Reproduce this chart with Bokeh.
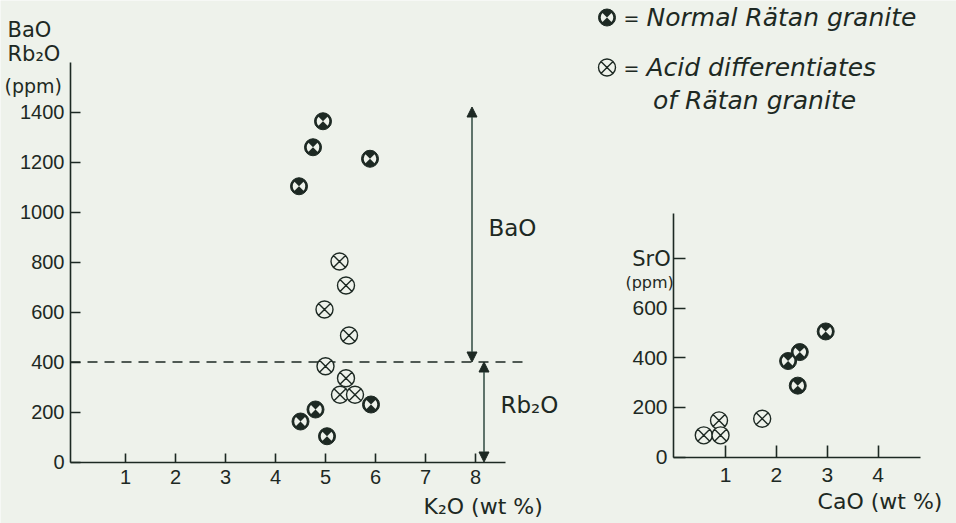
import math
from bokeh.plotting import figure
from bokeh.models import LinearAxis, FixedTicker, Range1d, Arrow, NormalHead
from bokeh.core.properties import value
from bokeh.embed import file_html
from bokeh.resources import INLINE

BG = "#eef2eb"
INK = "#1d2923"
ARROW = "#2f4a40"

# ---- Left panel: BaO / Rb2O (ppm) vs K2O (wt %) ----
normal_k2o = [4.95, 4.75, 5.89, 4.47, 5.91, 4.80, 4.50, 5.03]
normal_ppm = [1363, 1259, 1213, 1103, 230, 210, 162, 103]
acid_k2o = [5.28, 5.41, 4.98, 5.47, 5.00, 5.41, 5.29, 5.59]
acid_ppm = [802, 706, 610, 506, 383, 335, 269, 269]
left_xticks = [1, 2, 3, 4, 5, 6, 7, 8]
left_yticks = [0, 200, 400, 600, 800, 1000, 1200, 1400]
boundary_ppm = 400
bao_span = [400, 1420]
rb2o_span = [0, 400]

# ---- Right panel: SrO (ppm) vs CaO (wt %) ----
normal_cao = [2.23, 2.46, 2.42, 2.97]
normal_sro = [387, 423, 288, 506]
acid_cao = [0.57, 0.87, 0.90, 1.72]
acid_sro = [88, 148, 88, 155]
right_xticks = [1, 2, 3, 4]
right_yticks = [0, 200, 400, 600, 800]

legend_labels = ["Normal Rätan granite", "Acid differentiates", "of Rätan granite"]

FONT_NUM = "Liberation Sans"
FONT_TXT = "DejaVu Sans"

p = figure(width=956, height=523,
           x_range=Range1d(-1.5, 17.62), y_range=Range1d(-246, 1846),
           x_axis_type=None, y_axis_type=None, min_border=0,
           toolbar_location=None, output_backend="svg",
           background_fill_color=BG, border_fill_color=BG, outline_line_color=None)
p.extra_x_ranges = {"rx": Range1d(-13.274, 5.545)}
p.extra_y_ranges = {"ry": Range1d(-266.8, 1837.8)}


def style_axis(ax, size, standoff, tick_len):
    ax.axis_line_color = INK
    ax.axis_line_width = 1.6
    ax.major_tick_line_color = INK
    ax.major_tick_line_width = 1.6
    ax.major_tick_in = tick_len
    ax.major_tick_out = 0
    ax.minor_tick_line_color = None
    ax.major_label_text_font = FONT_NUM
    ax.major_label_text_font_size = size
    ax.major_label_text_color = INK
    ax.major_label_standoff = standoff


# left axes
lx = LinearAxis(fixed_location=0, bounds=(-0.1, 8.6), ticker=FixedTicker(ticks=left_xticks))
style_axis(lx, "20px", 8, 9)
p.add_layout(lx, "below")
ly = LinearAxis(fixed_location=-0.1, bounds=(0, 1598), ticker=FixedTicker(ticks=left_yticks))
style_axis(ly, "20px", 6, 10)
p.add_layout(ly, "left")

# right axes
rxa = LinearAxis(x_range_name="rx", y_range_name="ry", fixed_location=0,
                 bounds=(-0.026, 4.84), ticker=FixedTicker(ticks=right_xticks))
style_axis(rxa, "21px", 11, 12)
p.add_layout(rxa, "below")
rya = LinearAxis(x_range_name="rx", y_range_name="ry", fixed_location=-0.026,
                 bounds=(0, 981), ticker=FixedTicker(ticks=right_yticks))
rya.major_label_overrides = {800: ""}
style_axis(rya, "21px", 6, 12)
p.add_layout(rya, "left")

# boundary dashed line and range arrows (left panel)
p.line([-0.1, 9.0], [boundary_ppm, boundary_ppm], line_color=INK, line_width=1.5, line_dash="10 7")
for xa, span in [(7.93, bao_span), (8.17, rb2o_span)]:
    p.add_layout(Arrow(x_start=xa, y_start=span[0], x_end=xa, y_end=span[1],
                       line_color=ARROW, line_width=1.5,
                       start=NormalHead(size=10, fill_color=INK, line_color=INK, line_width=1),
                       end=NormalHead(size=10, fill_color=INK, line_color=INK, line_width=1)))


def normal_markers(xs, ys, **kw):
    p.scatter(xs, ys, marker="circle", size=17, fill_color=INK, line_color=INK, line_width=1, **kw)
    a = 0.78
    p.wedge(xs, ys, radius=6.3, radius_units="screen", start_angle=-a, end_angle=a,
            fill_color=BG, line_color=None, **kw)
    p.wedge(xs, ys, radius=6.3, radius_units="screen", start_angle=math.pi - a, end_angle=math.pi + a,
            fill_color=BG, line_color=None, **kw)


def acid_markers(xs, ys, **kw):
    p.scatter(xs, ys, marker="circle_x", size=17, fill_color=BG, line_color=INK, line_width=1.4, **kw)


normal_markers(normal_k2o, normal_ppm)
acid_markers(acid_k2o, acid_ppm)
normal_markers(normal_cao, normal_sro, x_range_name="rx", y_range_name="ry")
acid_markers(acid_cao, acid_sro, x_range_name="rx", y_range_name="ry")


def txt(x, y, s, size, style="normal", align="left", **kw):
    p.text(x=[x], y=[y], text=[s], text_font=value(FONT_TXT), text_font_size=size,
           text_font_style=style, text_color=INK, text_align=align, text_baseline="middle", **kw)


# left panel titles
txt(-1.36, 1729, "BaO", "21px")
txt(-1.36, 1633, "Rb₂O", "21px")
txt(-1.42, 1506, "(ppm)", "19px")
txt(8.26, 936, "BaO", "23px")
txt(8.50, 230, "Rb₂O", "23px")
txt(6.96, -176, "K₂O (wt %)", "22px")

# right panel titles
txt(-0.08, 798, "SrO", "21px", align="right", x_range_name="rx", y_range_name="ry")
txt(-0.02, 705, "(ppm)", "16px", align="right", x_range_name="rx", y_range_name="ry")
txt(2.81, -180, "CaO (wt %)", "22px", x_range_name="rx", y_range_name="ry")

# legend
normal_markers([10.63], [1778])
acid_markers([10.63], [1578])
txt(10.96, 1778, "=", "19px")
txt(10.96, 1578, "=", "19px")
txt(11.42, 1778, legend_labels[0], "25px", style="italic")
txt(11.42, 1578, legend_labels[1], "25px", style="italic")
txt(11.55, 1446, legend_labels[2], "25px", style="italic")

open("out.html", "w").write(file_html(p, INLINE))
